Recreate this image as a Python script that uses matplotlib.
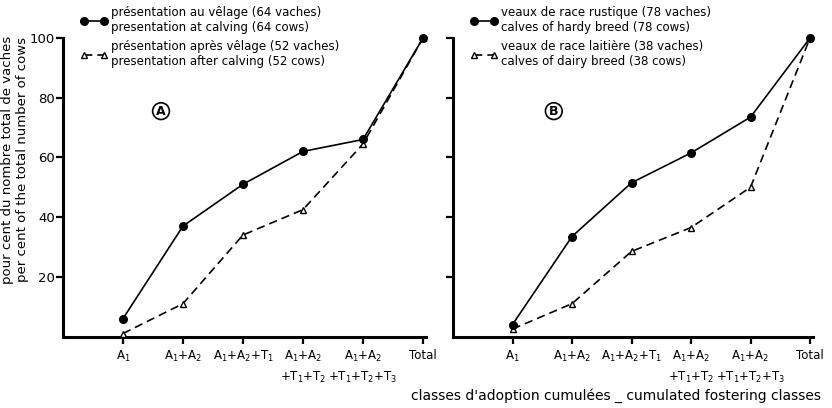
import matplotlib.pyplot as plt
from matplotlib.lines import Line2D

plt.rcParams['font.family'] = ['DejaVu Sans']

classes = ['A$_1$', 'A$_1$+A$_2$', 'A$_1$+A$_2$+T$_1$', 'A$_1$+A$_2$\n+T$_1$+T$_2$',
           'A$_1$+A$_2$\n+T$_1$+T$_2$+T$_3$', 'Total']
x = [1, 2, 3, 4, 5, 6]

# panel A
at_calving = [6, 37, 51, 62, 66, 100]
after_calving = [1, 11, 34, 42.5, 64.5, 100]
# panel B
hardy = [4, 33.5, 51.5, 61.5, 73.5, 100]
dairy = [2.5, 11, 28.5, 36.5, 50, 100]

legA = ['présentation au vêlage (64 vaches)\npresentation at calving (64 cows)',
        'présentation après vêlage (52 vaches)\npresentation after calving (52 cows)']
legB = ['veaux de race rustique (78 vaches)\ncalves of hardy breed (78 cows)',
        'veaux de race laitière (38 vaches)\ncalves of dairy breed (38 cows)']

fig = plt.figure(figsize=(8.32, 4.08), dpi=100)
W, H = 832, 408
axA = fig.add_axes([63 / W, 71.5 / H, 363 / W, 298.5 / H])
axB = fig.add_axes([453 / W, 71.5 / H, 360 / W, 298.5 / H])

solid = dict(color='k', lw=1.2, marker='o', ms=5.5, mfc='k', mec='k', clip_on=False, zorder=3)
dashed = dict(color='k', lw=1.2, ls=(0, (5, 3)), marker='^', ms=5, mfc='white', mec='k',
              mew=1, clip_on=False, zorder=3)

for ax, s1, s2, lab, letter, lx, cx in [(axA, at_calving, after_calving, legA, 'A', 80, 0.27),
                                         (axB, hardy, dairy, legB, 'B', 470, 0.28)]:
    ax.plot(x, s2, **dashed)
    ax.plot(x, s1, **solid)
    ax.set_xlim(0, 6.05)
    ax.set_ylim(0, 100)
    for sp in ['top', 'right']:
        ax.spines[sp].set_visible(False)
    for sp in ['left', 'bottom']:
        ax.spines[sp].set_linewidth(2.2)
    ax.set_xticks(x)
    ax.set_xticklabels(classes, fontsize=8.5, linespacing=1.5)
    ax.set_yticks([20, 40, 60, 80, 100])
    ax.tick_params(axis='both', direction='out', length=5, width=1.6, pad=2)
    ax.tick_params(axis='x', pad=4)
    ax.tick_params(axis='y', labelsize=9.5, pad=1)
    ax.text(cx, 0.755, letter, transform=ax.transAxes,
            fontsize=9, fontweight='bold', ha='center', va='center',
            bbox=dict(boxstyle='circle,pad=0.15', fc='white', ec='k', lw=1.2))
    handles = [Line2D([], [], **{k: v for k, v in solid.items() if k != 'clip_on'}),
               Line2D([], [], **{k: v for k, v in dashed.items() if k != 'clip_on'})]
    fig.legend(handles, lab, loc='upper left', bbox_to_anchor=(lx / W, 1 - 6 / H),
               frameon=False, numpoints=2, handlelength=2.3, handletextpad=0.3,
               borderpad=0, borderaxespad=0, labelspacing=0.5, fontsize=8.5)

axB.set_yticklabels([])

fig.text(15 / W, 1 - 160 / H, 'pour cent du nombre total de vaches\nper cent of the total number of cows',
         rotation=90, ha='center', va='center', fontsize=9.5, linespacing=1.15)
fig.text(616 / W, 12 / H, "classes d'adoption cumulées _ cumulated fostering classes",
         ha='center', va='center', fontsize=10)

fig.savefig('out.png', dpi=100)
